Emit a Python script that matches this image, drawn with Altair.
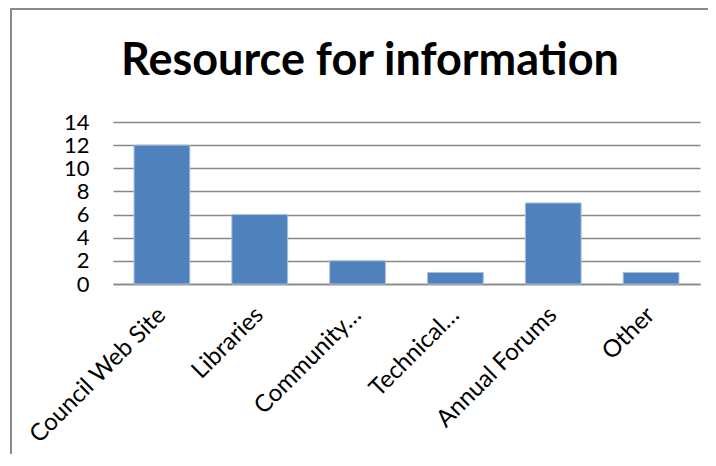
import altair as alt
import pandas as pd

categories = ["Council Web Site", "Libraries", "Community…", "Technical…", "Annual Forums", "Other"]
values = [12, 6, 2, 1, 7, 1]
y_ticks = [0, 2, 4, 6, 8, 10, 12, 14]
title_text = "Resource for information"

df = pd.DataFrame({"category": categories, "value": values})

FONT = "Lato"
GRID = "#878787"

frame = alt.Chart(alt.Data(values=[{}])).mark_rect(
    fill=None, stroke="#8a8a8a", strokeWidth=2
).encode(
    x=alt.value(-102), x2=alt.value(2000),
    y=alt.value(-113), y2=alt.value(2000),
)

title = alt.Chart(alt.Data(values=[{"t": title_text}])).mark_text(
    font=FONT, fontSize=45, fontWeight="bold", color="black",
    align="center", baseline="alphabetic",
).encode(
    text="t:N", x=alt.value(257), y=alt.value(-47),
)

bars = alt.Chart(df).mark_bar(
    color="#4F81BD", stroke="#A9C0DE", strokeWidth=1
).encode(
    x=alt.X(
        "category:N", sort=categories, title=None,
        scale=alt.Scale(paddingInner=0.43, paddingOuter=0.215),
        axis=alt.Axis(
            labelAngle=-45, labelAlign="right", labelBaseline="middle",
            labelFont=FONT, labelFontSize=24, labelColor="black",
            labelPadding=27, ticks=False, domain=True, domainColor=GRID,
            domainWidth=1.5, labelLimit=300,
        ),
    ),
    y=alt.Y(
        "value:Q", title=None,
        scale=alt.Scale(domain=[0, 14], nice=False),
        axis=alt.Axis(
            values=y_ticks, grid=True, gridColor=GRID, gridWidth=1.5,
            ticks=False, domain=False, labelFont=FONT, labelFontSize=22,
            labelColor="black", labelPadding=24,
        ),
    ),
)

chart = alt.layer(frame, title, bars).properties(
    width=587, height=162,
    autosize=alt.AutoSizeParams(type="none"),
    padding={"left": 105, "top": 114, "right": 8, "bottom": 170},
).configure_view(stroke=None)

chart.save("out.html", embed_options={"renderer": "svg", "actions": False})
